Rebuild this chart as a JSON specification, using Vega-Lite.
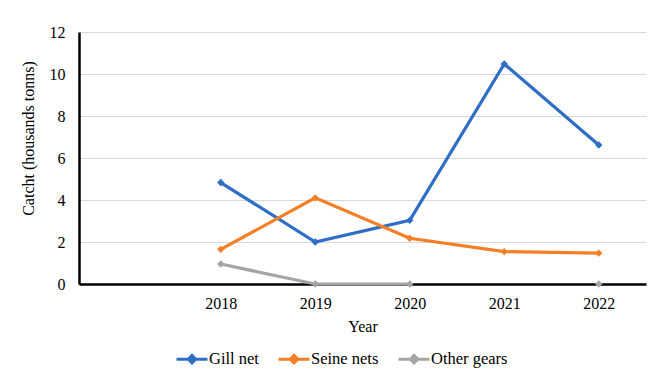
{
  "$schema": "https://vega.github.io/schema/vega-lite/v6.json",
  "autosize": {"type": "none"},
  "width": 567,
  "height": 252,
  "padding": {"left": 79, "top": 32, "right": 18, "bottom": 92},
  "background": "white",
  "config": {
    "view": {"stroke": null},
    "font": "Liberation Serif",
    "axis": {
      "labelFont": "Liberation Serif",
      "titleFont": "Liberation Serif",
      "labelColor": "black",
      "titleColor": "black",
      "titleFontWeight": "normal",
      "ticks": false,
      "tickSize": 0
    },
    "legend": {
      "labelFont": "Liberation Serif",
      "titleFont": "Liberation Serif",
      "labelFontSize": 16.5,
      "labelColor": "black"
    }
  },
  "data": {
    "values": [
      {"year": 2018, "gear": "Gill net", "catch": 4.83},
      {"year": 2019, "gear": "Gill net", "catch": 2.0},
      {"year": 2020, "gear": "Gill net", "catch": 3.03},
      {"year": 2021, "gear": "Gill net", "catch": 10.48},
      {"year": 2022, "gear": "Gill net", "catch": 6.62},
      {"year": 2018, "gear": "Seine nets", "catch": 1.65},
      {"year": 2019, "gear": "Seine nets", "catch": 4.1},
      {"year": 2020, "gear": "Seine nets", "catch": 2.18},
      {"year": 2021, "gear": "Seine nets", "catch": 1.54},
      {"year": 2022, "gear": "Seine nets", "catch": 1.47},
      {"year": 2018, "gear": "Other gears", "catch": 0.95},
      {"year": 2019, "gear": "Other gears", "catch": 0},
      {"year": 2020, "gear": "Other gears", "catch": 0},
      {"year": 2021, "gear": "Other gears", "catch": null},
      {"year": 2022, "gear": "Other gears", "catch": 0}
    ]
  },
  "encoding": {
    "x": {
      "field": "year",
      "type": "quantitative",
      "scale": {"domain": [2016.5, 2022.5], "nice": false, "zero": false},
      "axis": {
        "values": [2018, 2019, 2020, 2021, 2022],
        "format": "d",
        "grid": false,
        "domainColor": "black",
        "domainWidth": 2.5,
        "labelFontSize": 16,
        "labelPadding": 11,
        "title": "Year",
        "titleFontSize": 16,
        "titlePadding": 7
      }
    },
    "y": {
      "field": "catch",
      "type": "quantitative",
      "scale": {"domain": [0, 12], "nice": false},
      "axis": {
        "values": [0, 2, 4, 6, 8, 10, 12],
        "grid": true,
        "gridColor": "#d9d9d9",
        "gridWidth": 1,
        "domainColor": "black",
        "domainWidth": 2.5,
        "labelFontSize": 16,
        "labelPadding": 14,
        "title": "Catcht (housands tonns)",
        "titleFontSize": 16,
        "titlePadding": 13,
        "titleY": 106
      }
    },
    "color": {
      "field": "gear",
      "type": "nominal",
      "scale": {
        "domain": ["Gill net", "Seine nets", "Other gears"],
        "range": ["#2f6ec6", "#f57f26", "#a5a5a5"]
      },
      "legend": {
        "orient": "none",
        "legendX": 96,
        "legendY": 310,
        "direction": "horizontal",
        "title": null,
        "symbolType": "M-1,0L1,0M0,-0.24L0.24,0L0,0.24L-0.24,0Z",
        "symbolSize": 961,
        "symbolStrokeWidth": 3,
        "labelFont": "Liberation Serif",
        "labelFontSize": 16.5,
        "labelColor": "black",
        "labelOffset": 0,
        "columnPadding": 13,
        "encode": {
          "symbols": {
            "update": {
              "fill": {"scale": "color", "field": "value"},
              "stroke": {"scale": "color", "field": "value"},
              "opacity": {"value": 1}
            }
          }
        }
      }
    }
  },
  "layer": [
    {
      "mark": {"type": "line", "strokeWidth": 3.2, "invalid": "break-paths-show-domains"}
    },
    {
      "mark": {"type": "point", "shape": "diamond", "filled": true, "size": 55, "opacity": 1}
    }
  ]
}
